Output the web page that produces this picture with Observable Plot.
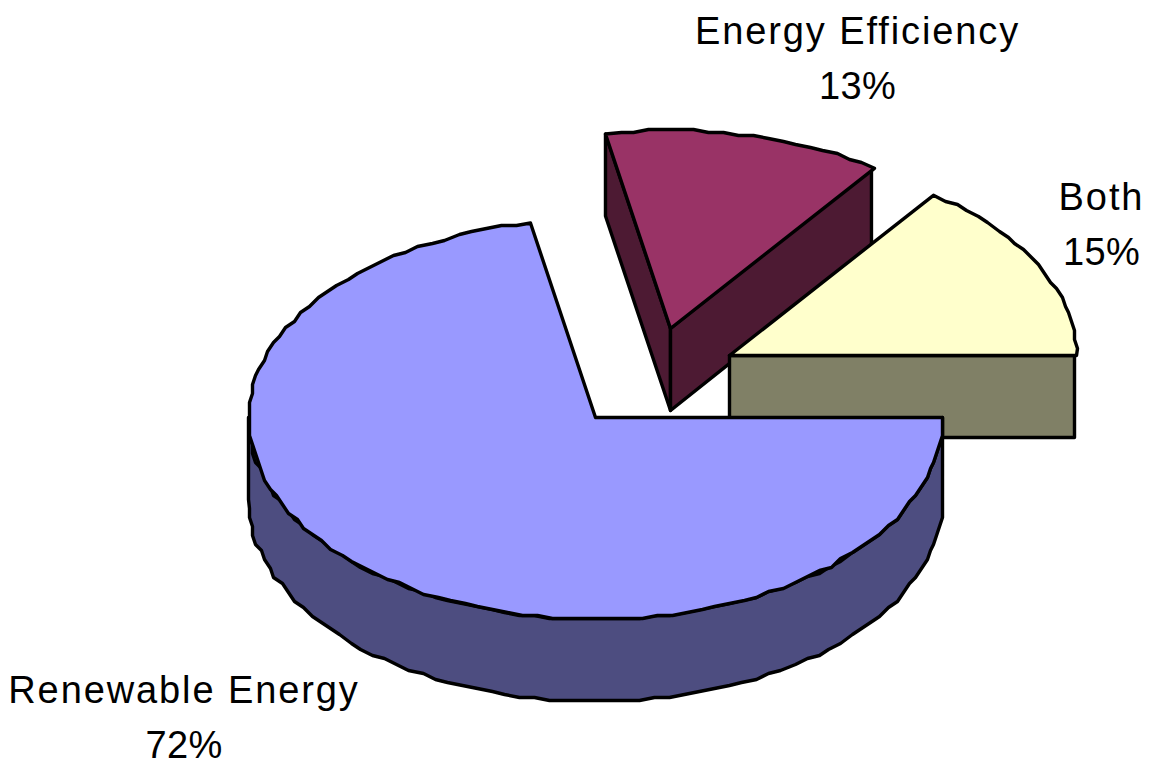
<!DOCTYPE html>
<html>
<head>
<meta charset="utf-8">
<script src="https://cdn.jsdelivr.net/npm/d3@7"></script>
<script src="https://cdn.jsdelivr.net/npm/@observablehq/plot@0.6"></script>
<style>
html,body{margin:0;padding:0;background:#fff}
svg{display:block}
.slice-name text{letter-spacing:1.9px}
.slice-pct text{letter-spacing:0.3px}
</style>
</head>
<body>
<div id="chart"></div>
<script>
const categories = ["Renewable Energy", "Energy Efficiency", "Both"];
const shares = [72, 13, 15];

// Layout of the exploded pie
const rx = 347, ryFront = 202, ryBack = 198, depth = 82, startDeg = 90;
const grid = 3; // the source's coarse vector outline
const centers = [[595, 417], [670, 328], [729, 355]];
const topColors = ["#9999FF", "#993366", "#FFFFCC"];
const wallColors = ["#4D4D80", "#4D1A33", "#808066"];
const labelAt = [[183.5, 718], [857, 59], [1101, 225]];
const lineGap = 55;

// Slice angles derive from the shares
let acc = startDeg;
const slices = shares.map((s, i) => {
  const a0 = acc, a1 = acc + s * 3.6;
  acc = a1;
  return {a0, a1, c: centers[i]};
});
const rim = ([cx, cy], a, drop = 0) => {
  const t = a * Math.PI / 180, c = Math.cos(t);
  return {x: cx + rx * Math.sin(t), y: cy - (c > 0 ? ryBack : ryFront) * c + drop};
};
const snap = v => Math.round(v / grid) * grid;
const arc = (c, a0, a1, drop = 0) => {
  const n = Math.max(2, Math.ceil(Math.abs(a1 - a0) / 2.5));
  return d3.range(n + 1).map(k => {
    const p = rim(c, a0 + (a1 - a0) * k / n, drop);
    return k === 0 || k === n ? p : {x: snap(p.x), y: snap(p.y - drop) + drop};
  });
};
const pt = ([x, y], drop = 0) => ({x, y: y + drop});
const closed = pts => [...pts, pts[0]];
const topFace = s => closed([pt(s.c), ...arc(s.c, s.a0, s.a1)]);
const cutWall = (s, a, inset = 0) => {
  const p = rim(s.c, a);
  return closed([pt(s.c), {x: p.x - inset, y: p.y}, {x: p.x - inset, y: p.y + depth}, pt(s.c, depth)]);
};
const rimWall = (s, a0, a1) =>
  closed([...arc(s.c, a0, a1), ...arc(s.c, a1, a0, depth)]);

const [main, eff, both] = slices;
const face = (pts, fill) =>
  Plot.line(pts, {x: "x", y: "y", fill, stroke: "#000", strokeWidth: 3.4,
                  strokeLinejoin: "round", strokeLinecap: "round"});

const labels = categories.map((c, i) => ({
  name: c, pct: `${shares[i]}%`, x: labelAt[i][0],
  yName: labelAt[i][1] - lineGap / 2, yPct: labelAt[i][1] + lineGap / 2
}));
const textStyle = {x: "x", fill: "#000", fontSize: 38, fontFamily: "Liberation Sans",
                   textAnchor: "middle", lineAnchor: "middle"};

const plot = Plot.plot({
  width: 1160, height: 769,
  marginTop: 0, marginRight: 0, marginBottom: 0, marginLeft: 0,
  x: {domain: [0, 1160], range: [0, 1160], axis: null},
  y: {domain: [0, 769], range: [0, 769], axis: null},
  style: {background: "#fff"},
  marks: [
    // Energy Efficiency
    face(cutWall(eff, eff.a0), wallColors[1]),
    face(cutWall(eff, eff.a1, 3), wallColors[1]),
    face(topFace(eff), topColors[1]),
    // Both
    face(cutWall(both, both.a1, 2), wallColors[2]),
    face(topFace(both), topColors[2]),
    // Renewable Energy
    face(rimWall(main, main.a0, 270), wallColors[0]),
    face(topFace(main), topColors[0]),
    Plot.text(labels, {...textStyle, y: "yName", text: "name", className: "slice-name"}),
    Plot.text(labels, {...textStyle, y: "yPct", text: "pct", className: "slice-pct"})
  ]
});
document.getElementById("chart").append(plot);
</script>
</body>
</html>
